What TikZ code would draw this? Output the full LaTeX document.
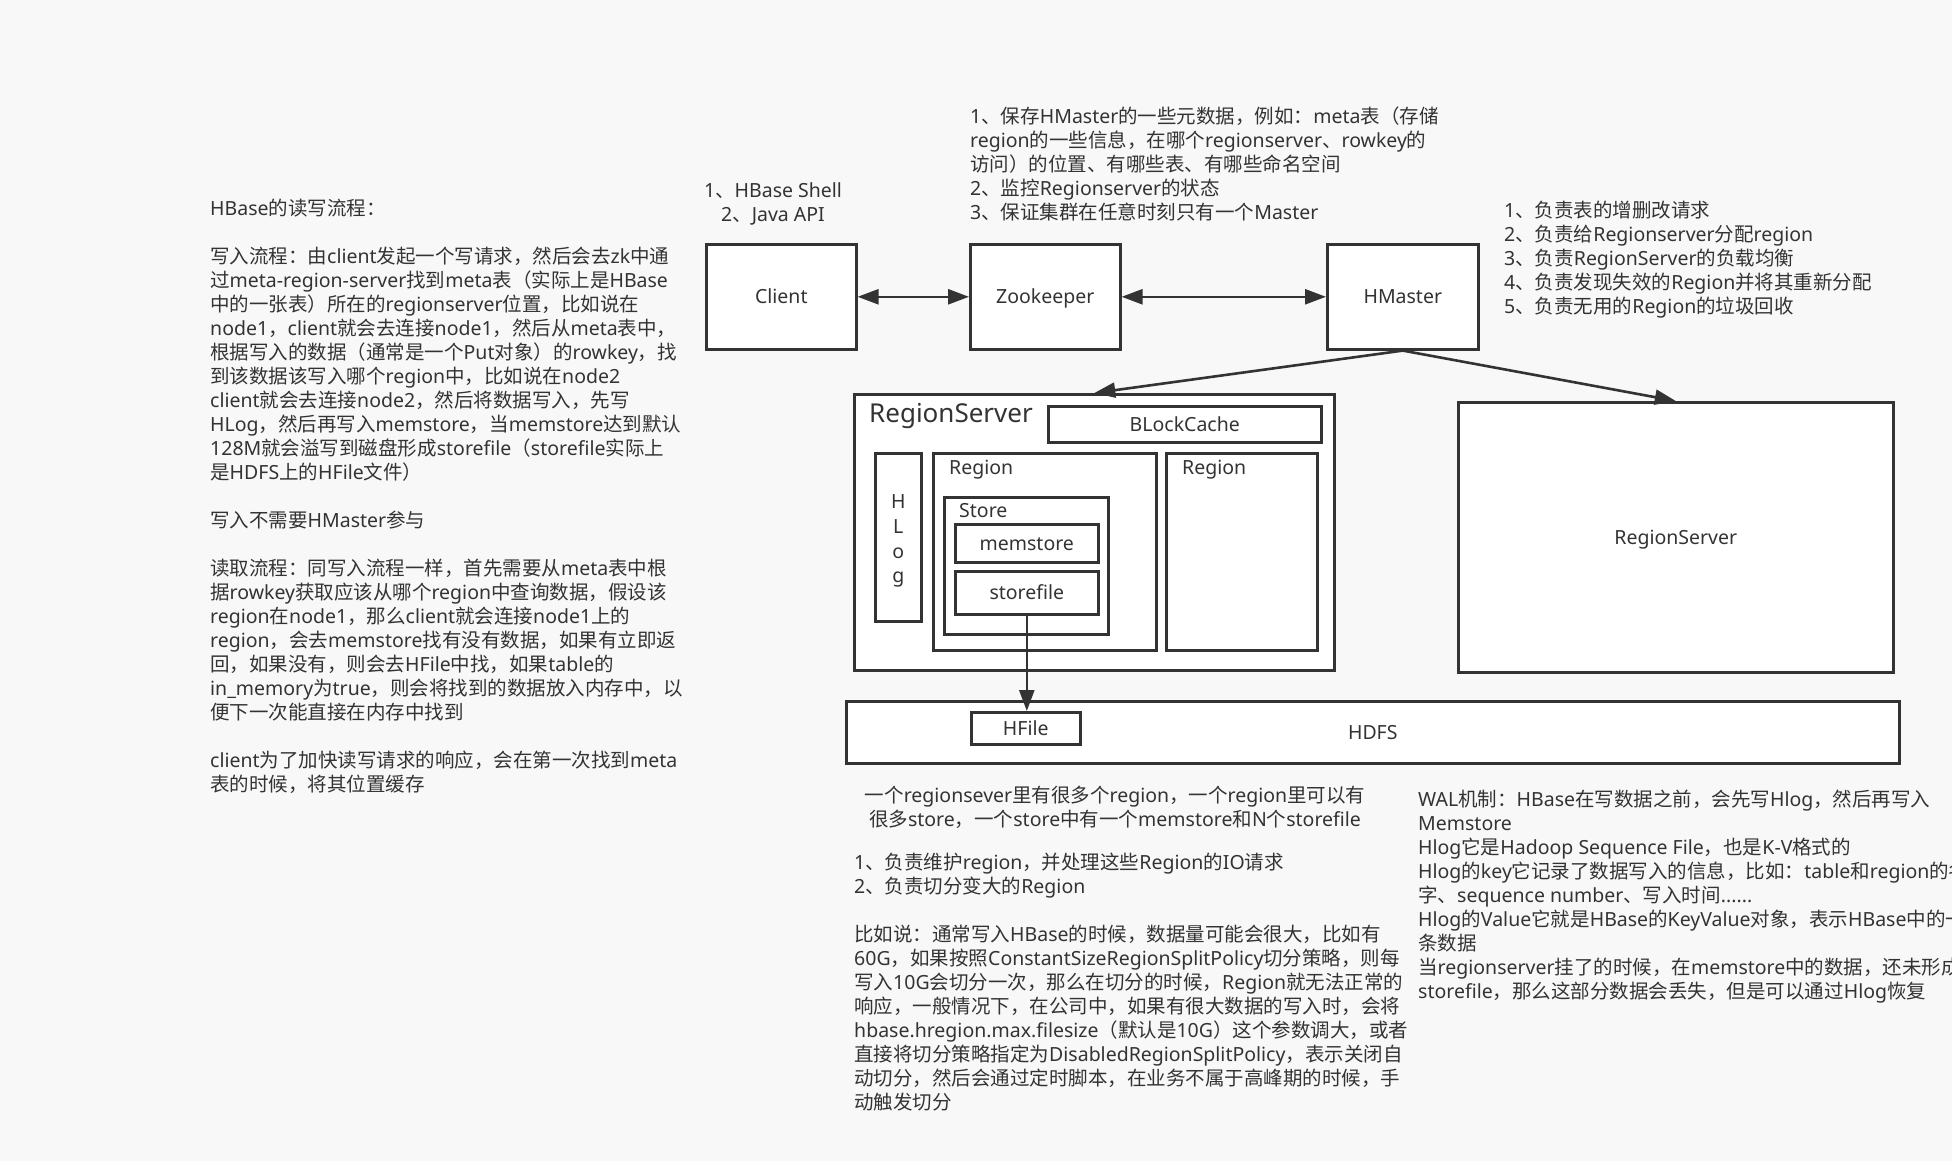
\documentclass[tikz,border=0pt]{standalone}
\usepackage{fontspec}
\setmainfont{Noto Sans}
\newfontfamily\cjkf{Noto Sans CJK SC}
\newfontfamily\latf{Noto Sans}
\usetikzlibrary{arrows.meta}
% automatic switch between Latin and CJK fonts
\XeTeXinterchartokenstate=1
\chardef\CJKcls=100
\newcount\cjkc
\def\setcjkrange#1#2{\cjkc=#1\relax\loop\ifnum\cjkc<#2\relax\XeTeXcharclass\cjkc=\CJKcls\advance\cjkc by 1\repeat}
\setcjkrange{"3000}{"3040}
\setcjkrange{"4E00}{"A000}
\setcjkrange{"FF00}{"FFF0}
\XeTeXinterchartoks 0 \CJKcls = {\cjkf}
\XeTeXinterchartoks 4095 \CJKcls = {\cjkf}
\XeTeXinterchartoks \CJKcls 0 = {\latf}
\XeTeXinterchartoks 4095 0 = {\latf}
\definecolor{bg}{HTML}{F8F8F8}
\definecolor{lc}{HTML}{333333}
\definecolor{tc}{HTML}{333333}
\newcommand\bodyfs{\fontsize{19.5}{24}\selectfont}
\newcommand\fst{\rule{0pt}{20pt}}
\tikzset{
  box/.style={draw=lc, fill=white, line width=2.6pt, inner sep=0pt, anchor=north west, text=tc, font=\bodyfs, text height=16.5pt, text depth=2.5pt},
  txt/.style={inner sep=0pt, align=left, anchor=north west, text=tc, font=\bodyfs},
  lbl/.style={inner sep=0pt, anchor=base west, text=tc, font=\bodyfs},
  arr/.style={draw=lc, line width=2.6pt, -{Triangle[length=21pt,width=15pt]}},
  darr/.style={draw=lc, line width=2.6pt, {Triangle[length=21pt,width=15pt]}-{Triangle[length=21pt,width=15pt]}}
}
\begin{document}
\begin{tikzpicture}[x=1pt,y=-1pt]
\useasboundingbox[fill=bg] (0,0) rectangle (1952,1161);

% top row
\node[box, minimum width=150pt, minimum height=105pt] (client) at (705,243) {Client};
\node[box, minimum width=150pt, minimum height=105pt] (zk) at (969,243) {Zookeeper};
\node[box, minimum width=151pt, minimum height=105pt] (hm) at (1326,243) {HMaster};

% region servers
\node[box, minimum width=480pt, minimum height=276pt] (rs1) at (853,393) {};
\node[lbl, font=\fontsize{26}{30}\selectfont] (rs1lbl) at (869,422) {RegionServer};
\node[box, minimum width=273pt, minimum height=36pt] (bc) at (1047,405) {BLockCache};
\node[box, minimum width=46pt, minimum height=168pt] (hlog) at (874,452) {};
\node[inner sep=0pt, align=center, text=tc, font=\fontsize{19.5}{24.7}\selectfont] (hlogtxt) at ([yshift=-4pt]hlog.center) {H\\L\\o\\g};
\node[box, minimum width=223pt, minimum height=197pt] (reg1) at (932,452) {};
\node[lbl] (reg1lbl) at (949,474) {Region};
\node[box, minimum width=164pt, minimum height=137pt] (store) at (943,496) {};
\node[lbl] (storelbl) at (959,517) {Store};
\node[box, minimum width=143pt, minimum height=38pt] (mem) at (954,523) {memstore};
\node[box, minimum width=143pt, minimum height=43pt] (sf) at (954,570) {storefile};
\node[box, minimum width=151pt, minimum height=197pt] (reg2) at (1165,452) {};
\node[lbl] (reg2lbl) at (1182,474) {Region};
\node[box, minimum width=435pt, minimum height=270pt] (rs2) at (1457,401) {RegionServer};

% HDFS
\node[box, minimum width=1053pt, minimum height=62pt] (hdfs) at (845,700) {HDFS};
\node[box, minimum width=109pt, minimum height=32pt] (hfile) at (970,711) {HFile};

% connectors
\draw[darr] (client.east) -- (zk.west);
\draw[darr] (zk.east) -- (hm.west);
\draw[arr] (hm.south) -- (rs1.north);
\draw[arr] (hm.south) -- (rs2.north);
\draw[arr] (sf.south) -- (sf.south |- hfile.north);

% texts
\node[txt] (lefttxt) at (210,195) {\fst HBase的读写流程：\\[24pt]
写入流程：由client发起一个写请求，然后会去zk中通\\
过meta-region-server找到meta表（实际上是HBase\\
中的一张表）所在的regionserver位置，比如说在\\
node1，client就会去连接node1，然后从meta表中，\\
根据写入的数据（通常是一个Put对象）的rowkey，找\\
到该数据该写入哪个region中，比如说在node2\\
client就会去连接node2，然后将数据写入，先写\\
HLog，然后再写入memstore，当memstore达到默认\\
128M就会溢写到磁盘形成storefile（storefile实际上\\
是HDFS上的HFile文件）\\[24pt]
写入不需要HMaster参与\\[24pt]
读取流程：同写入流程一样，首先需要从meta表中根\\
据rowkey获取应该从哪个region中查询数据，假设该\\
region在node1，那么client就会连接node1上的\\
region，会去memstore找有没有数据，如果有立即返\\
回，如果没有，则会去HFile中找，如果table的\\
in\_memory为true，则会将找到的数据放入内存中，以\\
便下一次能直接在内存中找到\\[24pt]
client为了加快读写请求的响应，会在第一次找到meta\\
表的时候，将其位置缓存};

\node[txt, align=center, anchor=north] (clienttxt) at (773,177) {\fst 1、HBase Shell\\2、Java API};

\node[txt] (zktxt) at (970,103) {\fst 1、保存HMaster的一些元数据，例如：meta表（存储\\
region的一些信息，在哪个regionserver、rowkey的\\
访问）的位置、有哪些表、有哪些命名空间\\
2、监控Regionserver的状态\\
3、保证集群在任意时刻只有一个Master};

\node[txt] (hmtxt) at (1504,197) {\fst 1、负责表的增删改请求\\
2、负责给Regionserver分配region\\
3、负责RegionServer的负载均衡\\
4、负责发现失效的Region并将其重新分配\\
5、负责无用的Region的垃圾回收};

\node[txt, align=center, anchor=north] (rstxt) at (1115,782) {\fst 一个regionsever里有很多个region，一个region里可以有\\
很多store，一个store中有一个memstore和N个storefile};

\node[txt] (resptxt) at (854,849) {\fst 1、负责维护region，并处理这些Region的IO请求\\
2、负责切分变大的Region\\[24pt]
比如说：通常写入HBase的时候，数据量可能会很大，比如有\\
60G，如果按照ConstantSizeRegionSplitPolicy切分策略，则每\\
写入10G会切分一次，那么在切分的时候，Region就无法正常的\\
响应，一般情况下，在公司中，如果有很大数据的写入时，会将\\
hbase.hregion.max.filesize（默认是10G）这个参数调大，或者\\
直接将切分策略指定为DisabledRegionSplitPolicy，表示关闭自\\
动切分，然后会通过定时脚本，在业务不属于高峰期的时候，手\\
动触发切分};

\node[txt] (waltxt) at (1418,786) {\fst WAL机制：HBase在写数据之前，会先写Hlog，然后再写入\\
Memstore\\
Hlog它是Hadoop Sequence File，也是K-V格式的\\
Hlog的key它记录了数据写入的信息，比如：table和region的名\\
字、sequence number、写入时间......\\
Hlog的Value它就是HBase的KeyValue对象，表示HBase中的一\\
条数据\\
当regionserver挂了的时候，在memstore中的数据，还未形成\\
storefile，那么这部分数据会丢失，但是可以通过Hlog恢复};
\end{tikzpicture}
\end{document}
